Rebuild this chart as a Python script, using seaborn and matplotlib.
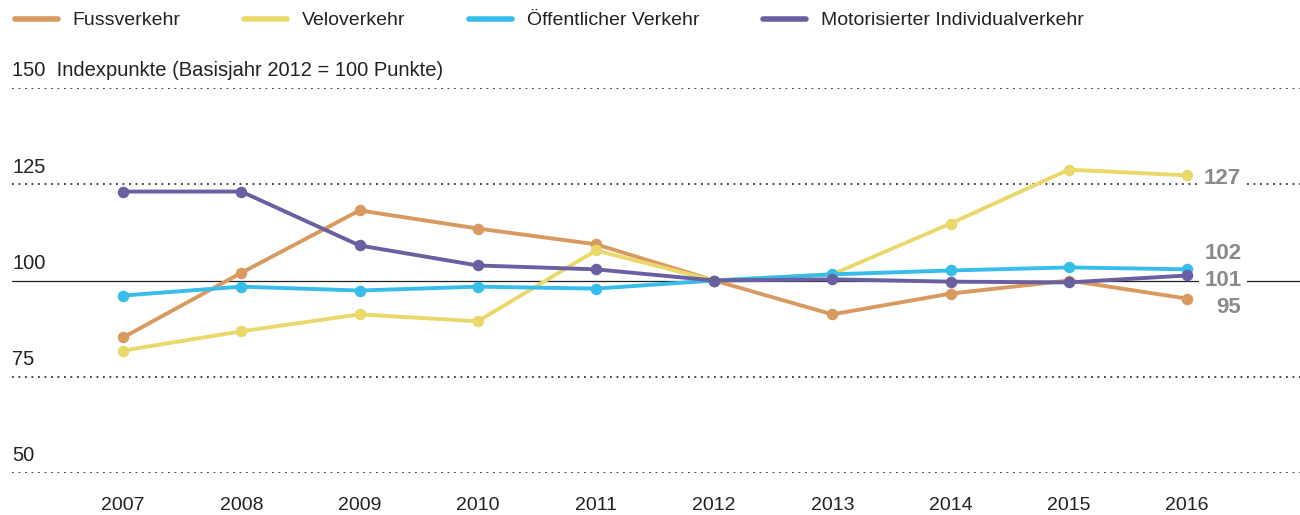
import pandas as pd
import matplotlib.pyplot as plt
import seaborn as sns
from matplotlib.lines import Line2D

jahre = [2007, 2008, 2009, 2010, 2011, 2012, 2013, 2014, 2015, 2016]
fuss = [85.2, 102.0, 118.2, 113.5, 109.4, 100.0, 91.2, 96.6, 100.0, 95.3]
velo = [81.8, 86.8, 91.2, 89.4, 107.8, 100.0, 101.6, 114.8, 128.8, 127.3]
oev = [96.1, 98.4, 97.4, 98.4, 97.9, 100.0, 101.6, 102.6, 103.4, 102.9]
miv = [123.1, 123.1, 109.1, 103.9, 102.9, 100.0, 100.3, 99.7, 99.5, 101.3]
serien = ['Fussverkehr', 'Veloverkehr', 'Öffentlicher Verkehr', 'Motorisierter Individualverkehr']
farben = ['#d99a5f', '#ead96a', '#36bdea', '#6a5fa0']
end_labels = ['95', '127', '102', '101']
label_y = [93.0, 126.6, 107.0, 100.0]
yticks = [50, 75, 100, 125, 150]

df = pd.concat([pd.DataFrame({'Jahr': jahre, 'Index': v, 'Verkehr': s})
                for s, v in zip(serien, [fuss, velo, oev, miv])])

sns.set_style('white')
plt.rcParams['font.family'] = ['Liberation Sans', 'DejaVu Sans']

fig = plt.figure(figsize=(13, 5.15), dpi=100)
ax = fig.add_axes([12 / 1300, 1 - 473 / 515, 1 - 12 / 1300, (473 - 88) / 515])

# grid lines
for t in yticks:
    if t == 100:
        ax.axhline(t, color='#222222', lw=0.9, zorder=1)
    else:
        ax.axhline(t, color='#333333', lw=1.3, ls=(0, (1, 2.6)), zorder=1)

sns.lineplot(data=df, x='Jahr', y='Index', hue='Verkehr', hue_order=serien,
             palette=farben, marker='o', markersize=8.3, markeredgewidth=0,
             linewidth=2.8, legend=False, ax=ax, zorder=3)

ax.set_xlim(2006.06, 2016.956)
ax.set_ylim(50, 150)
for s in ax.spines.values():
    s.set_visible(False)
ax.set_yticks([])
ax.set_xticks(jahre)
ax.set_xticklabels([str(j) for j in jahre], fontsize=14, color='#222222')
ax.tick_params(axis='x', length=0, pad=17)
ax.set_xlabel('')
ax.set_ylabel('')

# y labels above grid lines
for t in yticks:
    txt = str(t)
    if t == 150:
        txt = '150  Indexpunkte (Basisjahr 2012 = 100 Punkte)'
    ax.text(2006.06, t + 2.0, txt, fontsize=14.5, color='#222222', ha='left', va='bottom')

# end labels
for lab, yv in zip(end_labels, label_y):
    ax.text(2016.46, yv, lab, fontsize=16, fontweight='bold', color='#8a8a8a',
            ha='right', va='center', zorder=4,
            bbox=dict(facecolor='white', edgecolor='none', pad=4))

handles = [Line2D([0], [0], color=c, lw=4, solid_capstyle='round') for c in farben]
fig.legend(handles, serien, loc='upper left', bbox_to_anchor=(-0.002, 1.011), ncol=4,
           frameon=False, fontsize=14, handlelength=2.2, handletextpad=0.75,
           columnspacing=3.3, labelcolor='#222222')

fig.savefig('out.png', dpi=100)
